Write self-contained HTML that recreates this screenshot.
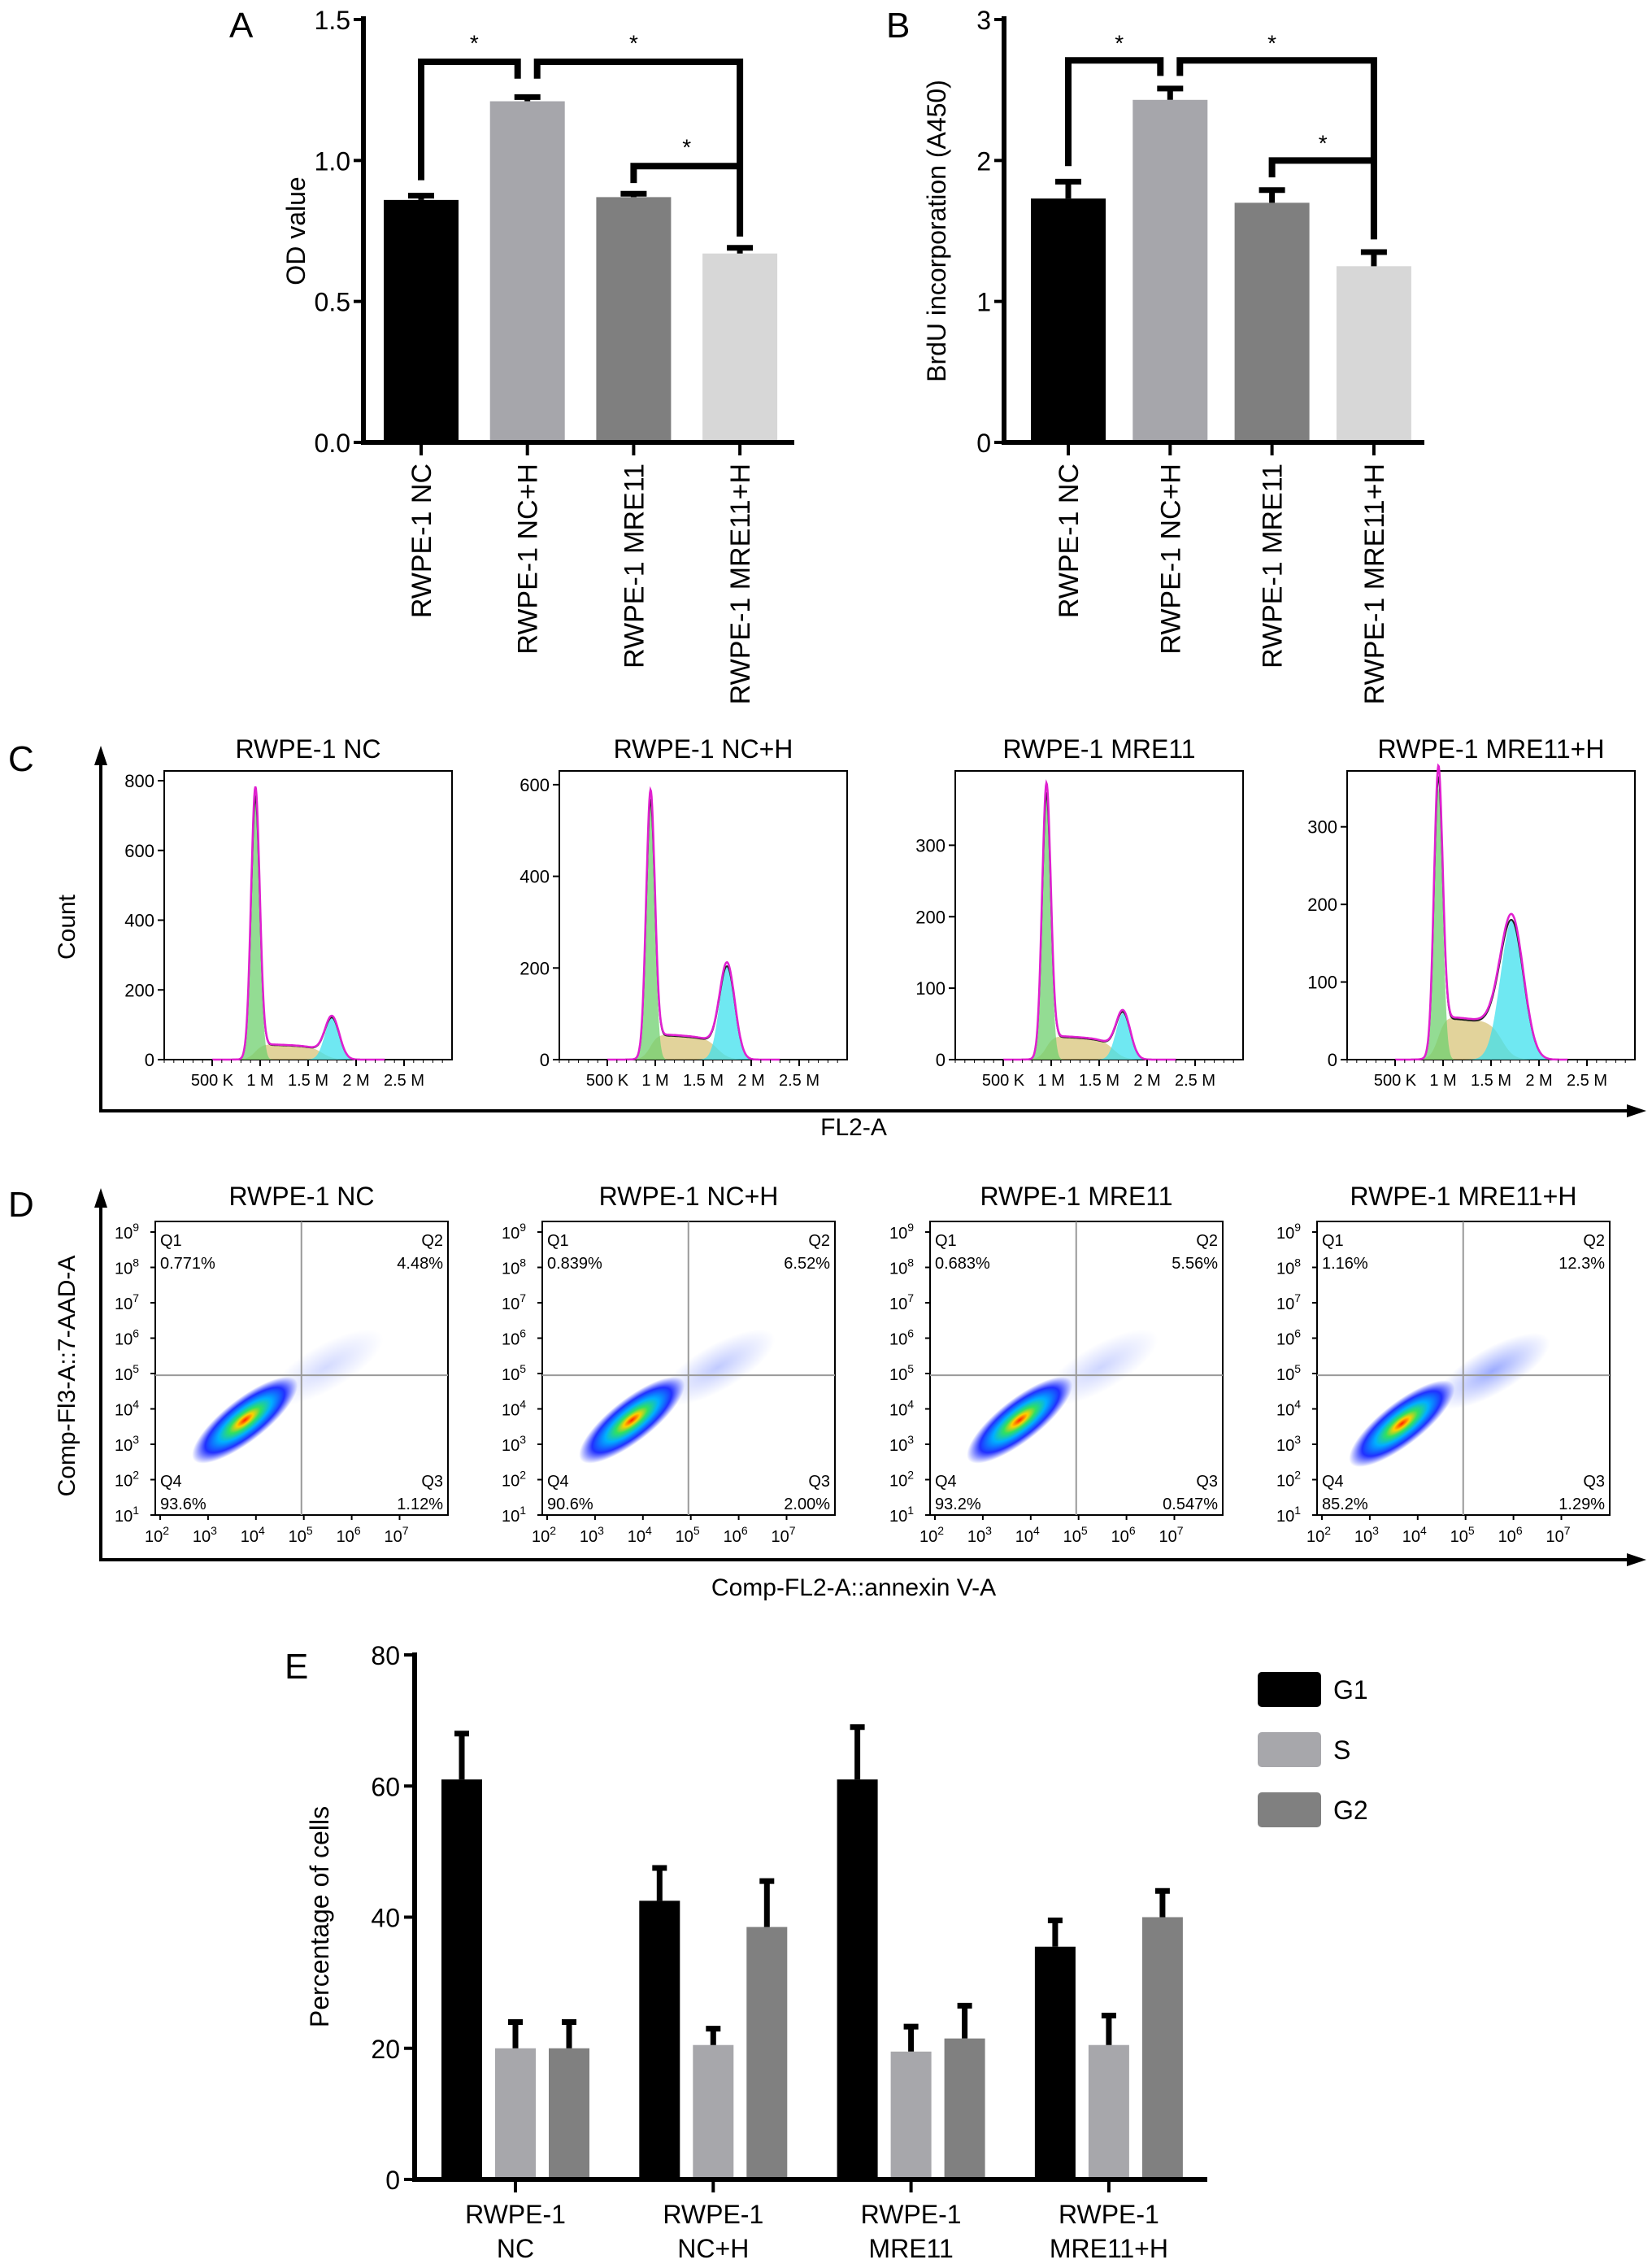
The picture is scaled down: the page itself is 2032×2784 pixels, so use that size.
<!DOCTYPE html>
<html><head><meta charset="utf-8"><style>
html,body{margin:0;padding:0;background:#fff;}
svg{display:block;font-family:"Liberation Sans",sans-serif;}
</style></head><body>
<svg id="fig" xmlns="http://www.w3.org/2000/svg" width="2032" height="2784" viewBox="0 0 2032 2784"></svg>
<script>
// ---------- DATA ----------
const catA = ["RWPE-1 NC","RWPE-1 NC+H","RWPE-1 MRE11","RWPE-1 MRE11+H"];
const valA = [0.86,1.21,0.87,0.67];
const errA = [0.015,0.015,0.012,0.02];
const ticksA = [0,0.5,1.0,1.5];
const tickLabA = ["0.0","0.5","1.0","1.5"];
const valB = [1.73,2.43,1.70,1.25];
const errB = [0.12,0.08,0.09,0.10];
const ticksB = [0,1,2,3];
const colorsAB = ["#000000","#a6a6ab","#7f7f7f","#d7d7d7"];

const histTitles = ["RWPE-1 NC","RWPE-1 NC+H","RWPE-1 MRE11","RWPE-1 MRE11+H"];
const histYMax = [828,630,404,372];
const histYTicks = [[0,200,400,600,800],[0,200,400,600],[0,100,200,300],[0,100,200,300]];
const g1Peak = [760,560,370,350];
const sLevel = [40,50,30,50];
const g2Peak = [120,205,65,180];
const g2Pos = [1.75,1.75,1.75,1.72];
const g2Sd = [0.075,0.08,0.075,0.12];
const histXTicks = [0.5,1,1.5,2,2.5];
const histXLabs = ["500 K","1 M","1.5 M","2 M","2.5 M"];

const dotTitles = ["RWPE-1 NC","RWPE-1 NC+H","RWPE-1 MRE11","RWPE-1 MRE11+H"];
const q1 = ["0.771%","0.839%","0.683%","1.16%"];
const q2 = ["4.48%","6.52%","5.56%","12.3%"];
const q3 = ["1.12%","2.00%","0.547%","1.29%"];
const q4 = ["93.6%","90.6%","93.2%","85.2%"];
const clusterX = [3.6,3.6,3.6,3.5];
const clusterY = [3.5,3.5,3.5,3.4];
const tailX = [5.8,5.9,5.8,5.9];
const tailY = [5.4,5.4,5.4,5.3];
const tailStrength = [0.35,0.5,0.4,0.8];

const catE = [["RWPE-1","NC"],["RWPE-1","NC+H"],["RWPE-1","MRE11"],["RWPE-1","MRE11+H"]];
const seriesE = ["G1","S","G2"];
const g1Val = [61,42.5,61,35.5];
const g1Err = [7,5,8,4];
const sVal = [20,20.5,19.5,20.5];
const sErr = [4,2.5,3.8,4.5];
const g2Val = [20,38.5,21.5,40];
const g2Err = [4,7,5,4];
const colorsE = ["#000000","#a7a7ab","#808080"];
const ticksE = [0,20,40,60,80];

// ---------- HELPERS ----------
const NS="http://www.w3.org/2000/svg";
const svg=document.getElementById('fig');
function el(tag,attrs,parent){const e=document.createElementNS(NS,tag);for(const k in attrs)e.setAttribute(k,attrs[k]);(parent||svg).appendChild(e);return e;}
function txt(s,attrs,parent){const e=el('text',attrs,parent);e.textContent=s;return e;}

// ---------- PANEL A / B ----------
function barPanel(name,letter,lx,cat,vals,errs,ticks,tlabs,axX,axRight,x0,step,yMax,title){
  const g=el('g',{});
  
  
  const y=v=>544-v*(520/yMax);
  const L=txt(letter,{x:lx,y:46,'font-size':44},g);
  
  
  vals.forEach((v,i)=>{
    const cx=x0+i*step;
    const b=el('rect',{x:cx-46,y:y(v),width:92,height:544-y(v),fill:colorsAB[i]},g);
    
    
    const e=el('path',{d:`M${cx},${y(v)} V${y(v+errs[i])} M${cx-16},${y(v+errs[i])} H${cx+16}`,stroke:'#000','stroke-width':7,fill:'none'},g);
    
    
    el('line',{x1:cx,x2:cx,y1:544,y2:560,stroke:'#000','stroke-width':4},g);
    const t=txt(cat[i],{transform:`translate(${cx+12},570) rotate(-90)`,'text-anchor':'end','font-size':34},g);
    
    
  });
  const ax=el('path',{d:`M${axX},${y(yMax)-4} V544 H${axRight}`,stroke:'#000','stroke-width':6,fill:'none'},g);
  
  
  ticks.forEach((tv,i)=>{
    el('line',{x1:axX-12,x2:axX,y1:y(tv),y2:y(tv),stroke:'#000','stroke-width':4},g);
    const t=txt(tlabs[i],{x:axX-16,y:y(tv)+12,'text-anchor':'end','font-size':32},g);
    
    
  });
  const yt=txt(title,{transform:`translate(${axX-72},284) rotate(-90)`,'text-anchor':'middle','font-size':32},g);
  
  
  return {g,y};
}
// A
(function(){
  const x0=518,step=130.7;
  const {g,y}=barPanel('panel-a-chart','A',282,catA,valA,errA,ticksA,tickLabA,447,977,x0,step,1.5,'OD value');
  const c=i=>x0+i*step;
  const br=[
    `M${c(0)},${y(0.93)} V${y(1.35)} H${c(1)-12} V${y(1.29)}`,
    `M${c(1)+12},${y(1.29)} V${y(1.35)} H${c(3)} V${y(0.73)}`,
    `M${c(2)},${y(0.92)} V${y(0.98)} H${c(3)}`
  ];
  br.forEach(d=>{const p=el('path',{d,stroke:'#000','stroke-width':8,fill:'none'},g);
    
    });
  [[ (c(0)+c(1))/2, y(1.43)],[(c(1)+c(3))/2,y(1.43)],[(c(2)+c(3))/2,y(1.06)]].forEach(s=>{
    const t=txt('*',{x:s[0],y:s[1]+14,'text-anchor':'middle','font-size':28},g);
    
    });
})();
// B
(function(){
  const x0=1314,step=125.3;
  const {g,y}=barPanel('panel-b-chart','B',1090,catA,valB,errB,ticksB,["0","1","2","3"],1235,1752,x0,step,3,'BrdU incorporation (A450)');
  const c=i=>x0+i*step;
  const br=[
    `M${c(0)},${y(1.96)} V${y(2.71)} H${c(1)-12} V${y(2.6)}`,
    `M${c(1)+12},${y(2.6)} V${y(2.71)} H${c(3)} V${y(1.44)}`,
    `M${c(2)},${y(1.88)} V${y(2.0)} H${c(3)}`
  ];
  br.forEach(d=>{const p=el('path',{d,stroke:'#000','stroke-width':8,fill:'none'},g);
    
    });
  [[(c(0)+c(1))/2,y(2.86)],[(c(1)+c(3))/2,y(2.86)],[(c(2)+c(3))/2,y(2.15)]].forEach(s=>{
    const t=txt('*',{x:s[0],y:s[1]+14,'text-anchor':'middle','font-size':28},g);
    
    });
})();

// ---------- ARROW AXES (C, D) ----------
function arrowAxes(name,letter,ly,top,bottom,xt,xtY,yt,ytY){
  const g=el('g',{});
  
  
  const L=txt(letter,{x:10,y:ly,'font-size':44},g);
  
  
  el('path',{d:`M124,${top+20} V${bottom} H2005`,stroke:'#000','stroke-width':4,fill:'none'},g);
  el('path',{d:`M124,${top} l-8,24 h16 z M2025,${bottom} l-24,-8 v16 z`,fill:'#000'},g);
  const a=txt(xt,{x:1050,y:xtY,'text-anchor':'middle','font-size':30},g);
  
  
  const b=txt(yt,{transform:`translate(92,${ytY}) rotate(-90)`,'text-anchor':'middle','font-size':30},g);
  
  
}
arrowAxes('panel-c-axes','C',948,917,1366,'FL2-A',1396,'Count',1140);
arrowAxes('panel-d-axes','D',1496,1461,1918,'Comp-FL2-A::annexin V-A',1962,'Comp-Fl3-A::7-AAD-A',1692);

// ---------- PANEL C: histograms ----------
const histLeft=[202,688,1175,1657];
const sig=z=>1/(1+Math.exp(-z));
histTitles.forEach((title,p)=>{
  const L=histLeft[p],R=L+354,T=948,B=1303;
  const g=el('g',{});
  
  
  const X=v=>L+v/3*(R-L);
  const Y=v=>B-v/histYMax[p]*(B-T);
  const t=txt(title,{x:(L+R)/2,y:932,'text-anchor':'middle','font-size':32},g);
  
  
  el('rect',{x:L,y:T,width:R-L,height:B-T,fill:'#fff',stroke:'#000','stroke-width':2},g);
  const f1=x=>g1Peak[p]*Math.exp(-Math.pow(x-0.95,2)/(2*0.045*0.045));
  const fs=x=>sLevel[p]*sig((x-0.95)/0.04)*sig((g2Pos[p]-0.1-x)/0.06)*(1.15-0.3*(x-0.95));
  const f2=x=>g2Peak[p]*Math.exp(-Math.pow(x-g2Pos[p],2)/(2*g2Sd[p]*g2Sd[p]));
  const xs=[];for(let i=0;i<=300;i++)xs.push(0.5+i*1.8/300);
  const area=(f,col,nm)=>{let d=`M${X(xs[0])},${B}`;xs.forEach(x=>d+=` L${X(x).toFixed(1)},${Y(f(x)).toFixed(1)}`);d+=` L${X(xs[xs.length-1])},${B} Z`;
    const a=el('path',{d,fill:col,'fill-opacity':0.75},g);};
  area(fs,'#d8c47a','s-phase-area');
  area(f2,'#3fe0ee','g2-phase-area');
  area(f1,'#6fd06f','g1-phase-area');
  let dm='',dk='';
  xs.forEach((x,i)=>{const v=f1(x)+fs(x)+f2(x);dm+=(i?' L':'M')+X(x).toFixed(1)+','+Y(v).toFixed(1);dk+=(i?' L':'M')+X(x).toFixed(1)+','+Y(v*0.96).toFixed(1);});
  const lk=el('path',{d:dk,fill:'none',stroke:'#222','stroke-width':2},g);
  
  const lm=el('path',{d:dm,fill:'none',stroke:'#e020d0','stroke-width':2.5},g);
  
  histYTicks[p].forEach(v=>{el('line',{x1:L-8,x2:L,y1:Y(v),y2:Y(v),stroke:'#000','stroke-width':2},g);
    const tl=txt(String(v),{x:L-12,y:Y(v)+8,'text-anchor':'end','font-size':22},g);
    });
  histXTicks.forEach((v,i)=>{el('line',{x1:X(v),x2:X(v),y1:B,y2:B+8,stroke:'#000','stroke-width':2},g);
    const tl=txt(histXLabs[i],{x:X(v),y:1335,'text-anchor':'middle','font-size':20},g);
    });
  for(let v=0;v<=3;v+=0.1)el('line',{x1:X(v),x2:X(v),y1:B,y2:B+4,stroke:'#000','stroke-width':1},g);
});

// ---------- PANEL D: dot plots ----------
const dotLeft=[191,667,1144,1620];
const defs=el('defs',{});
const grad=el('radialGradient',{id:'dens'},defs);
[['0','#ff2000'],['0.15','#ffd000'],['0.3','#30e060'],['0.5','#00b0ff'],['0.75','#2030ff'],['1','#2030ff']].forEach(s=>el('stop',{offset:s[0],'stop-color':s[1],'stop-opacity':s[0]==='1'?0:1},grad));
const grad2=el('radialGradient',{id:'tail'},defs);
[['0','#3050ff'],['1','#3050ff']].forEach((s,i)=>el('stop',{offset:s[0],'stop-color':s[1],'stop-opacity':i?0:0.6},grad2));
dotTitles.forEach((title,p)=>{
  const L=dotLeft[p],R=L+360,T=1502,B=1863;
  const g=el('g',{});
  
  
  const X=v=>L+6+(v-2)*58.9;
  const Y=v=>1515+(9-v)*43.5;
  const t=txt(title,{x:(L+R)/2,y:1482,'text-anchor':'middle','font-size':32},g);
  
  el('rect',{x:L,y:T,width:R-L,height:B-T,fill:'#fff',stroke:'#000','stroke-width':2},g);
  const tx=X(tailX[p]),ty=Y(tailY[p]);
  const te=el('ellipse',{cx:tx-20,cy:ty+10,rx:80,ry:28,transform:`rotate(-30 ${tx-20} ${ty+10})`,fill:'url(#tail)','fill-opacity':tailStrength[p]},g);
  
  const cx=X(clusterX[p]),cy=Y(clusterY[p]);
  const ce=el('ellipse',{cx:cx+10,cy:cy-8,rx:80,ry:26,transform:`rotate(-38 ${cx+10} ${cy-8})`,fill:'url(#dens)'},g);
  
  const qx=X(4.95),qy=Y(4.95);
  el('line',{x1:qx,x2:qx,y1:T,y2:B,stroke:'#999','stroke-width':2},g);
  el('line',{x1:L,x2:R,y1:qy,y2:qy,stroke:'#999','stroke-width':2},g);
  const q=[['Q1',q1[p],L+6,'start',1532,1560],['Q2',q2[p],R-6,'end',1532,1560],['Q4',q4[p],L+6,'start',1828,1856],['Q3',q3[p],R-6,'end',1828,1856]];
  q.forEach(a=>{const n=txt(a[0],{x:a[2],y:a[4],'text-anchor':a[3],'font-size':20},g);
    
    const v=txt(a[1],{x:a[2],y:a[5],'text-anchor':a[3],'font-size':20},g);
    });
  for(let d=1;d<=9;d++){el('line',{x1:L-6,x2:L,y1:Y(d),y2:Y(d),stroke:'#000','stroke-width':2},g);
    const tl=txt('10',{x:L-20,y:Y(d)+8,'text-anchor':'end','font-size':20},g);
    el('tspan',{dy:-9,'font-size':14},tl).textContent=String(d);
    }
  for(let d=2;d<=7;d++){el('line',{x1:X(d),x2:X(d),y1:B,y2:B+6,stroke:'#000','stroke-width':2},g);
    const tl=txt('10',{x:X(d)-4,y:1896,'text-anchor':'middle','font-size':20},g);
    el('tspan',{dy:-9,'font-size':14},tl).textContent=String(d);
    }
});

// ---------- PANEL E ----------
(function(){
  const g=el('g',{});
  
  
  const Y=v=>2680-v*(645/80);
  const L=txt('E',{x:350,y:2064,'font-size':44},g);
  
  const vals=[g1Val,sVal,g2Val],errs=[g1Err,sErr,g2Err];
  catE.forEach((c,i)=>{
    const gc=634+i*243.3;
    vals.forEach((arr,s)=>{
      const cx=gc+(s-1)*66,v=arr[i],e=errs[s][i];
      const b=el('rect',{x:cx-25,y:Y(v),width:50,height:2680-Y(v),fill:colorsE[s]},g);
      
      
      const eb=el('path',{d:`M${cx},${Y(v)} V${Y(v+e)} M${cx-9},${Y(v+e)} H${cx+9}`,stroke:'#000','stroke-width':7,fill:'none'},g);
      
    });
    el('line',{x1:gc,x2:gc,y1:2680,y2:2696,stroke:'#000','stroke-width':4},g);
    const t1=txt(c[0],{x:gc,y:2734,'text-anchor':'middle','font-size':32},g);
    
    const t2=txt(c[1],{x:gc,y:2776,'text-anchor':'middle','font-size':32},g);
    
  });
  const ax=el('path',{d:`M510,${Y(80)-3} V2680 H1485`,stroke:'#000','stroke-width':6,fill:'none'},g);
  
  ticksE.forEach(v=>{el('line',{x1:497,x2:510,y1:Y(v),y2:Y(v),stroke:'#000','stroke-width':4},g);
    const t=txt(String(v),{x:492,y:Y(v)+12,'text-anchor':'end','font-size':32},g);
    });
  const yt=txt('Percentage of cells',{transform:'translate(404,2357) rotate(-90)','text-anchor':'middle','font-size':32},g);
  
  seriesE.forEach((s,i)=>{
    const yy=2056+i*74;
    const sw=el('rect',{x:1547,y:yy,width:78,height:43,rx:5,fill:colorsE[i]},g);
    
    const t=txt(s,{x:1640,y:yy+33,'font-size':32},g);
    
  });
})();
</script>
</body></html>
